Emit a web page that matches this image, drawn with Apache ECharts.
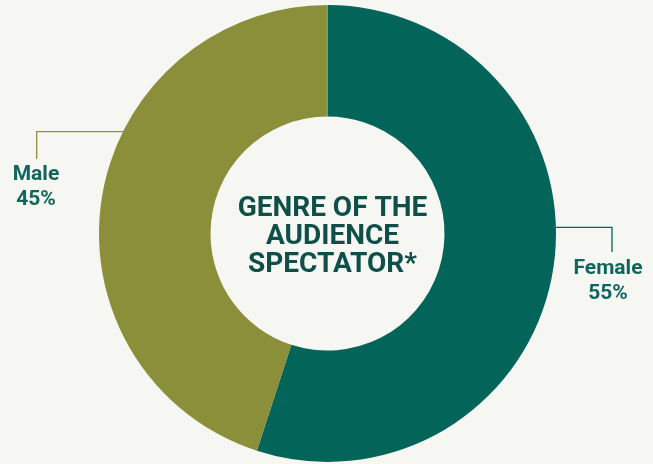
<!DOCTYPE html>
<html>
<head>
<meta charset="utf-8">
<script src="https://cdn.jsdelivr.net/npm/echarts@6/dist/echarts.min.js"></script>
<style>
html,body{margin:0;padding:0;background:#f6f6f2;}
#main{width:653px;height:464px;}
</style>
</head>
<body>
<div id="main"></div>
<script>
const categories = ['Female', 'Male'];
const values = [55, 45];
const colors = ['#03645a', '#8b8f3a'];
const centerTitle = 'GENRE OF THE\nAUDIENCE\nSPECTATOR*';

const cx = 327.5, cy = 233.5, R = 228.5, r = 117;
// label anchor positions (layout only)
const labelAnchors = [
  {lineY: 227.3, elbowX: 612, endY: 252, textX: 608, textY: 281},
  {lineY: 131.7, elbowX: 36.7, endY: 159, textX: 36, textY: 187}
];

const chart = echarts.init(document.getElementById('main'));
chart.setOption({
  backgroundColor: '#f6f6f2',
  animation: false,
  title: {
    text: centerTitle,
    left: cx,
    top: 190,
    textAlign: 'center',
    textStyle: {
      fontFamily: 'Roboto',
      fontWeight: 'bold',
      fontSize: 28,
      lineHeight: 28,
      color: '#0e4f49'
    }
  },
  series: [{
    type: 'pie',
    center: [cx, cy],
    radius: [r, R],
    startAngle: 90,
    clockwise: true,
    silent: true,
    data: categories.map((c, i) => ({
      name: c, value: values[i],
      itemStyle: {color: colors[i]},
      labelLine: {lineStyle: {color: colors[i], width: 1.3}}
    })),
    label: {
      show: true,
      position: 'outside',
      alignTo: 'none',
      overflow: 'none',
      formatter: '{b}\n{d}%',
      fontFamily: 'Roboto',
      fontWeight: 'bold',
      fontSize: 21,
      lineHeight: 25,
      color: '#10665d',
      align: 'center'
    },
    labelLine: {show: true, smooth: false},
    labelLayout: function (p) {
      const a = labelAnchors[p.dataIndex];
      const dy = a.lineY - cy;
      const dx = Math.sqrt(R * R - dy * dy);
      const edgeX = p.dataIndex === 0 ? cx + dx : cx - dx;
      return {
        x: a.textX,
        y: a.textY,
        align: 'center',
        verticalAlign: 'middle',
        labelLinePoints: [[edgeX, a.lineY], [a.elbowX, a.lineY], [a.elbowX, a.endY]]
      };
    }
  }]
});
</script>
</body>
</html>
